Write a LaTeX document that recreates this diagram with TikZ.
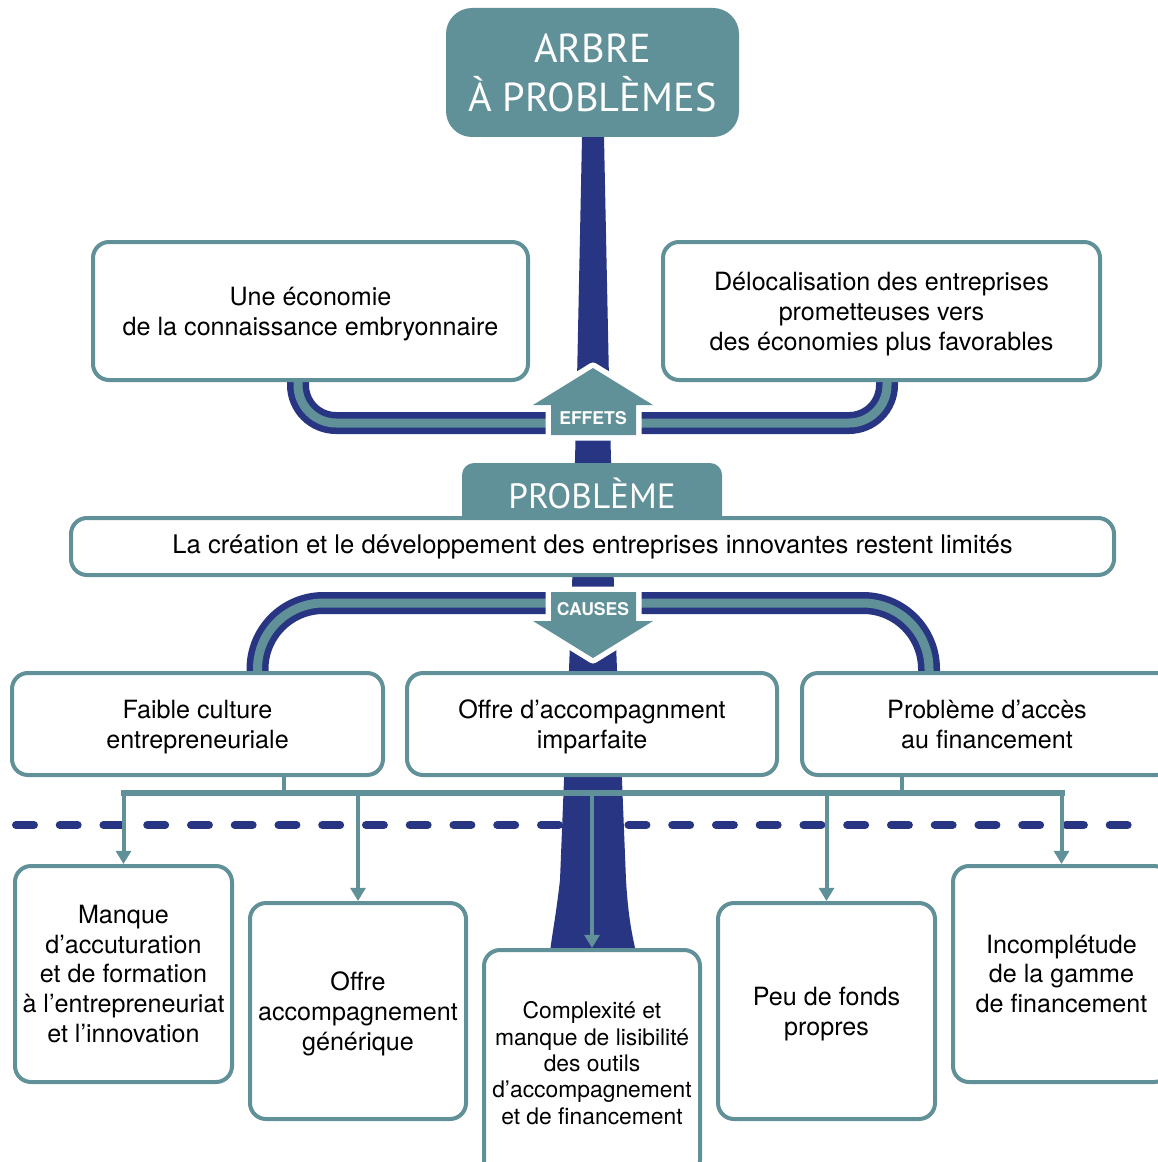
\documentclass[tikz,border=0pt]{standalone}
\usepackage{fontspec}
\setmainfont{TeX Gyre Heros}
\newfontfamily\titlefont{PT Sans}
\usetikzlibrary{arrows.meta,backgrounds}
\definecolor{arbreteal}{RGB}{96,144,152}
\definecolor{arbrenavy}{RGB}{40,53,130}
\newlength\pxu
\setlength\pxu{0.02cm}

\begin{document}
\begin{tikzpicture}[x=0.02cm,y=-0.02cm]
        % Styles
        \tikzstyle{box}=[draw=arbreteal,line width=4\pxu,rounded corners=16\pxu,fill=white,align=center,font=\fontsize{14.3}{17}\selectfont]
        \tikzstyle{text box}=[box,text depth=-4pt]
        \tikzstyle{small box}=[box,font=\fontsize{13}{15}\selectfont]
        \tikzstyle{title text}=[text=white,align=center,font=\titlefont\fontsize{23}{28}\selectfont]
        \tikzstyle{title box}=[title text,fill=arbreteal,rounded corners=26\pxu,minimum width=293\pxu,minimum height=129\pxu]
        \tikzstyle{tag}=[text=white,font=\bfseries\fontsize{10}{12}\selectfont]
        \tikzstyle{band}=[draw=arbrenavy,line width=6.5\pxu,double=arbreteal,double distance=9\pxu]
        \tikzstyle{big arrow}=[fill=arbreteal,preaction={draw=white,line width=11\pxu,line join=round}]
        \tikzstyle{cut line}=[arbrenavy,line width=8\pxu,line cap=round,dash pattern=on 10.2pt off 14.7pt]
        \tikzstyle{link}=[draw=arbreteal,line width=4\pxu]
        \tikzstyle{drop}=[link,-{Triangle[length=7.5pt,width=8.5pt]}]
        \useasboundingbox (0,0) rectangle (1157,1162);
        %title
        \node[title box] (arbre) at (592.5,72.5) {ARBRE\\À PROBLÈMES};
        %effects
        \node[text box,minimum width=435\pxu,minimum height=138\pxu] (econ) at (310.5,311) {Une économie\\de la connaissance embryonnaire};
        \node[text box,minimum width=437\pxu,minimum height=138\pxu] (deloc) at (881.5,311) {Délocalisation des entreprises\\prometteuses vers\\des économies plus favorables};
        %problem
        \fill[arbreteal,rounded corners=12\pxu] (462,463) rectangle (722,545);
        \node[title text,font=\titlefont\fontsize{20}{24}\selectfont] (problabel) at (592,493) {PROBLÈME};
        \node[box,minimum width=1043\pxu,minimum height=57\pxu,font=\fontsize{14.6}{17}\selectfont] (probleme) at (592.5,546.5) {La création et le développement des entreprises innovantes restent limités};
        %causes
        \node[text box,minimum width=371\pxu,minimum height=102\pxu] (faible) at (197.5,724) {Faible culture\\entrepreneuriale};
        \node[text box,minimum width=370\pxu,minimum height=102\pxu] (offre) at (592,724) {Offre d’accompagnment\\imparfaite};
        \node[text box,minimum width=370\pxu,minimum height=102\pxu] (acces) at (987,724) {Problème d’accès\\au financement};
        %sub causes
        \node[box,minimum width=217\pxu,minimum height=216\pxu] (manque) at (123.5,974) {Manque\\d’accuturation\\et de formation\\à l’entrepreneuriat\\et l’innovation};
        \node[text box,minimum width=216\pxu,minimum height=216\pxu] (generique) at (358,1011) {Offre\\accompagnement\\générique};
        \node[small box,minimum width=216\pxu,minimum height=226\pxu] (complex) at (592,1063) {Complexité et\\manque de lisibilité\\des outils\\d’accompagnement\\et de financement};
        \node[text box,minimum width=217\pxu,minimum height=216\pxu] (fonds) at (826.5,1011) {Peu de fonds\\propres};
        \node[box,minimum width=217\pxu,minimum height=216\pxu] (gamme) at (1061.5,974) {Incomplétude\\de la gamme\\de financement};
        \coordinate (effbar) at (593,423);
        \coordinate (causebar) at (593,603);
        \coordinate (bus) at (0,793);
        \coordinate (faibleout) at ([xshift=86.5\pxu]faible.south);
        \coordinate (accesout) at ([xshift=-85\pxu]acces.south);
        \coordinate (dashL) at (16,825);
        \coordinate (dashR) at (1140,825);
        \begin{scope}[on background layer]
            %dashed separation
            \draw[cut line] (dashL) -- (dashR);
            %trunk
            \fill[arbrenavy] (582,137) -- (577,380) -- (575,460) -- (572,590) -- (569,670) -- (564,780) -- (560,880)
                .. controls (556,915) and (552,935) .. (550,952) -- (636,952)
                .. controls (632,935) and (628,915) .. (626,880) -- (622,780) -- (617,670) -- (614,590) -- (611,460) -- (609,380) -- (604,137) -- cycle;
            %branches
            \draw[band,rounded corners=38\pxu] ([xshift=-12.5\pxu]econ.south) |- (effbar) -| ([xshift=5.5\pxu]deloc.south);
            \draw[band,rounded corners=66\pxu] ([xshift=60\pxu]faible.north) |- (causebar) -| ([xshift=-58\pxu]acces.north);
            %arrows
            \path[big arrow] (551,435) -- (551,405) -- (533,405) -- (593,368) -- (653,405) -- (636,405) -- (636,435) -- cycle;
            \path[big arrow] (551,592) -- (636,592) -- (636,621) -- (653,621) -- (593,658) -- (533,621) -- (551,621) -- cycle;
        \end{scope}
        \node[tag] (effets) at (593,418) {EFFETS};
        \node[tag] (causes) at (593,609) {CAUSES};
        %connectors
        \draw[link] (faibleout) -- (faibleout |- bus);
        \draw[link] (accesout) -- (accesout |- bus);
        \draw[link,line width=6\pxu,line cap=rect] (bus -| manque) -- (bus -| gamme);
        \foreach \b in {manque,generique,complex,fonds,gamme}
        \draw[drop] (bus -| \b) -- (\b.north);
    \end{tikzpicture}
\end{document}
